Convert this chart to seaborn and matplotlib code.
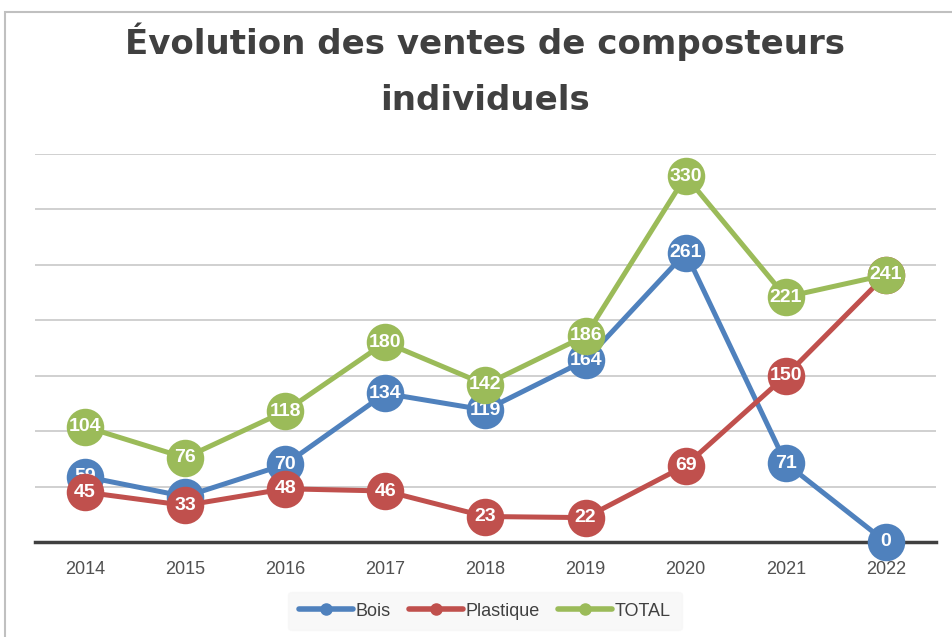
import matplotlib
matplotlib.use("Agg")
import matplotlib.pyplot as plt
from matplotlib.lines import Line2D
from matplotlib.patches import Rectangle
import seaborn as sns
import pandas as pd

years = ["2014", "2015", "2016", "2017", "2018", "2019", "2020", "2021", "2022"]
bois = [59, 41, 70, 134, 119, 164, 261, 71, 0]
plastique = [45, 33, 48, 46, 23, 22, 69, 150, 241]
total = [104, 76, 118, 180, 142, 186, 330, 221, 241]
series_names = ["Bois", "Plastique", "TOTAL"]
colors = ["#4F81BD", "#C0504D", "#9BBB59"]
title_lines = ["Évolution des ventes de composteurs", "individuels"]

sns.set_theme(style="white")
plt.rcParams["font.family"] = ["Liberation Sans", "DejaVu Sans"]

W, H = 952, 637
fig = plt.figure(figsize=(W / 100, H / 100), dpi=100)
ax = fig.add_axes([35 / W, 1 - 542 / H, (936 - 35) / W, (542 - 154) / H])

xs = list(range(len(years)))
for name, vals, col, z in zip(series_names, [bois, plastique, total], colors, [3, 4, 5]):
    df = pd.DataFrame({"x": xs, "y": vals})
    sns.lineplot(data=df, x="x", y="y", ax=ax, color=col, linewidth=3.6,
                 marker="o", markersize=27, markeredgewidth=0, zorder=z,
                 clip_on=False, legend=False)
    for xi, v in zip(xs, vals):
        ax.text(xi, v, str(v), ha="center", va="center", color="white",
                fontsize=14, fontweight="bold", zorder=z + 0.5)

ax.set_xlim(-0.5, len(years) - 0.5)
ax.set_ylim(0, 350)
ax.set_yticks(range(50, 351, 50))
ax.set_yticklabels([])
ax.tick_params(axis="y", length=0)
ax.grid(axis="y", color="#C8C8C8", linewidth=1.2, zorder=0)
ax.grid(axis="x", visible=False)
ax.set_axisbelow(True)
for s in ["left", "right", "top"]:
    ax.spines[s].set_visible(False)
ax.spines["bottom"].set_color("#404040")
ax.spines["bottom"].set_linewidth(2.5)
ax.spines["bottom"].set_zorder(2)
ax.set_xticks(xs)
ax.set_xticklabels(years, fontsize=13, color="#505050")
ax.tick_params(axis="x", length=0, pad=14)
ax.set_xlabel("")
ax.set_ylabel("")

# Titles
fig.text(485 / W, 1 - 42 / H, title_lines[0], ha="center", va="center",
         fontsize=24.5, fontweight="bold", color="#404040", family="DejaVu Sans")
fig.text(485 / W, 1 - 100 / H, title_lines[1], ha="center", va="center",
         fontsize=24.5, fontweight="bold", color="#404040", family="DejaVu Sans")

# Chart border
fig.patches.append(Rectangle((5 / W, -0.1), 1.2, 1 - 12 / H + 0.1, transform=fig.transFigure,
                             fill=False, edgecolor="#C0C0C0", linewidth=1.5))

handles = [Line2D([0], [0], color=c, linewidth=4, marker="o", markersize=8)
           for c in colors]
leg = fig.legend(handles, series_names, loc="center", bbox_to_anchor=(485 / W, 1 - 611 / H),
                 ncol=3, frameon=True, fontsize=13, handlelength=3.0,
                 columnspacing=1.0, handletextpad=0.15, borderpad=0.6)
leg.get_frame().set_facecolor("#F7F7F7")
leg.get_frame().set_edgecolor("#F7F7F7")
for t in leg.get_texts():
    t.set_color("#404040")

fig.savefig("out.png", dpi=100)
